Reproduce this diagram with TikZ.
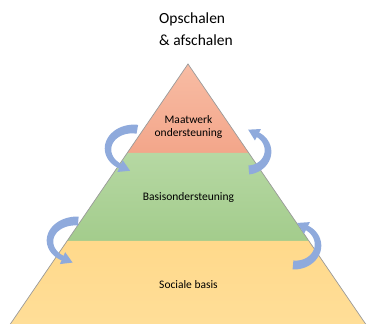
\documentclass[tikz,border=0pt]{standalone}
\usepackage{fontspec}
\setmainfont{Carlito}
\definecolor{orTop}{HTML}{F8BCA4}
\definecolor{orBot}{HTML}{F3A68A}
\definecolor{grTop}{HTML}{B6D8A3}
\definecolor{grBot}{HTML}{A3CC8C}
\definecolor{yeTop}{HTML}{FFD98B}
\definecolor{yeBot}{HTML}{FFDE98}
\definecolor{arrcol}{HTML}{8FAADC}
\definecolor{edgecol}{HTML}{9A9A9A}
\tikzset{
  arrowfill/.style={fill=arrcol},
  lbl/.style={font=\fontsize{11.5}{13}\selectfont, align=center, inner sep=0pt},
  ttl/.style={font=\fontsize{15.5}{18}\selectfont, anchor=west, inner sep=0pt}
}
% #1 cx, #2 cy, #3 rx, #4 ry, #5 t0 (tail), #6 t1 (band end), #7 w0, #8 w1
\newcommand\curvarr[8]{%
  \pgfmathsetmacro\sg{sign(#6-#5)}%
  \pgfmathsetmacro\ex{#1+#3*cos(#6)}%
  \pgfmathsetmacro\ey{#2-#4*sin(#6)}%
  \pgfmathsetmacro\tx{-\sg*#3*sin(#6)}%
  \pgfmathsetmacro\ty{-\sg*#4*cos(#6)}%
  \pgfmathsetmacro\tn{sqrt(\tx*\tx+\ty*\ty)}%
  \pgfmathsetmacro\ux{\tx/\tn}%
  \pgfmathsetmacro\uy{\ty/\tn}%
  \fill[arrowfill] plot[domain=#5:#6, samples=40, variable=\t]
    ({#1+(#3+0.5*(#7+(#8-#7)*(\t-#5)/(#6-#5)))*cos(\t)},
     {#2-(#4+0.5*(#7+(#8-#7)*(\t-#5)/(#6-#5)))*sin(\t)})
    -- plot[domain=#6:#5, samples=40, variable=\t]
    ({#1+(#3-0.5*(#7+(#8-#7)*(\t-#5)/(#6-#5)))*cos(\t)},
     {#2-(#4-0.5*(#7+(#8-#7)*(\t-#5)/(#6-#5)))*sin(\t)})
    -- cycle;
  \fill[arrowfill] ({\ex-6.5*\uy-0.5*\ux},{\ey+6.5*\ux-0.5*\uy})
    -- ({\ex+6.5*\uy-0.5*\ux},{\ey-6.5*\ux-0.5*\uy})
    -- ({\ex+10.5*\ux},{\ey+10.5*\uy}) -- cycle;
}
\begin{document}
\begin{tikzpicture}[x=1pt,y=-1pt]
\useasboundingbox (0,0) rectangle (368,324);
\begin{scope}
\clip (0,0) rectangle (368,324);
% bands
\shade[top color=orTop, bottom color=orBot]
  (188,64) -- (248.8,153) -- (127.2,153) -- cycle;
\shade[top color=grTop, bottom color=grBot]
  (127.2,153) -- (248.8,153) -- (309,241) -- (67,241) -- cycle;
\shade[top color=yeTop, bottom color=yeBot]
  (67,241) -- (309,241) -- (367,326) -- (9,326) -- cycle;
\draw[edgecol, line width=0.7pt, line join=miter] (9,326) -- (188,64) -- (367,326);
\end{scope}
% arrows
\curvarr{133}{149}{25}{20}{80}{240}{9}{5}
\curvarr{247}{151}{21}{19}{-85}{60}{9}{5}
\curvarr{76}{241}{26}{20}{85}{240}{9}{5}
\curvarr{295}{245}{23}{20}{-95}{60}{9}{5}
% texts
\node[ttl] (t1) at (159,19) {Opschalen};
\node[ttl] (t2) at (159,40) {\& afschalen};
\node[lbl] (maat) at (188.5,126.5) {Maatwerk\\ondersteuning};
\node[lbl] (basis) at (188.5,197) {Basisondersteuning};
\node[lbl] (soc) at (188.5,285) {Sociale basis};
\end{tikzpicture}
\end{document}
